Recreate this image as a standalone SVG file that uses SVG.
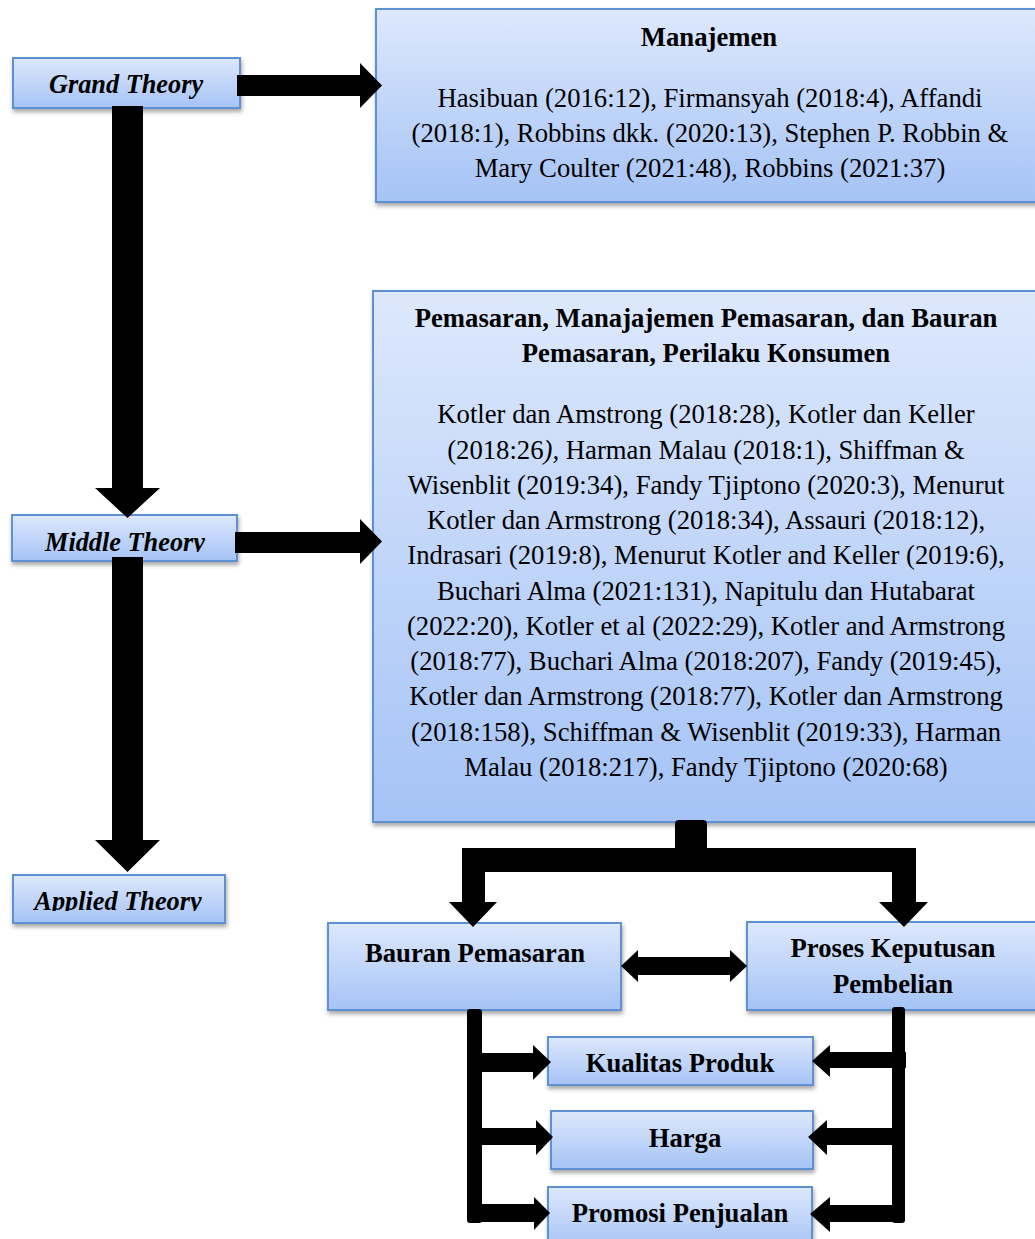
<svg xmlns="http://www.w3.org/2000/svg" width="1035" height="1239" viewBox="0 0 1035 1239">
<defs>
<linearGradient id="g" x1="0" y1="0" x2="0" y2="1">
<stop offset="0" stop-color="#dde8fc"/>
<stop offset="1" stop-color="#a5c3f6"/>
</linearGradient>
<filter id="sh" x="-10%" y="-10%" width="130%" height="140%">
<feDropShadow dx="1" dy="3" stdDeviation="2" flood-color="#000" flood-opacity="0.35"/>
</filter>
<clipPath id="cm"><rect x="0" y="500" width="300" height="52"/></clipPath>
<clipPath id="ca"><rect x="0" y="860" width="300" height="51"/></clipPath>
</defs>
<style>
.box{fill:url(#g);stroke:#5f91d2;stroke-width:2;filter:url(#sh)}
.t{font-family:"Liberation Serif","Times New Roman",serif;font-size:26.7px;fill:#000;text-anchor:middle}
.b{font-weight:bold}
.bi{font-weight:bold;font-style:italic;font-size:26.3px}
.c{fill:#000}
</style>
<g id="node-grand"><rect class="box" x="13" y="58" width="227" height="50"/><text class="t bi" x="126" y="93">Grand Theory</text></g>
<g id="node-middle"><rect class="box" x="12" y="515" width="225" height="46"/><text class="t bi" x="125" y="551" clip-path="url(#cm)">Middle Theory</text></g>
<g id="node-applied"><rect class="box" x="13" y="875" width="212" height="48"/><text class="t bi" x="118" y="910" clip-path="url(#ca)">Applied Theory</text></g>
<g id="node-manajemen"><rect class="box" x="376" y="9" width="670" height="193"/>
<text class="t b" x="709" y="46">Manajemen</text>
<text class="t" x="710" y="107">Hasibuan (2016:12), Firmansyah (2018:4), Affandi</text>
<text class="t" x="710" y="142">(2018:1), Robbins dkk. (2020:13), Stephen P. Robbin &amp;</text>
<text class="t" x="710" y="177">Mary Coulter (2021:48), Robbins (2021:37)</text>
</g>
<g id="node-pemasaran"><rect class="box" x="373" y="291" width="670" height="531"/>
<text class="t b" x="706" y="327">Pemasaran, Manajajemen Pemasaran, dan Bauran</text>
<text class="t b" x="706" y="362">Pemasaran, Perilaku Konsumen</text>
<text class="t" x="706" y="423.3">Kotler dan Amstrong (2018:28), Kotler dan Keller</text>
<text class="t" x="706" y="458.5">(2018:26<tspan font-style="italic">),</tspan> Harman Malau (2018:1), Shiffman &amp;</text>
<text class="t" x="706" y="493.8">Wisenblit (2019:34), Fandy Tjiptono (2020:3), Menurut</text>
<text class="t" x="706" y="529">Kotler dan Armstrong (2018:34), Assauri (2018:12),</text>
<text class="t" x="706" y="564.3">Indrasari (2019:8), Menurut Kotler and Keller (2019:6),</text>
<text class="t" x="706" y="599.5">Buchari Alma (2021:131), Napitulu dan Hutabarat</text>
<text class="t" x="706" y="634.7">(2022:20), Kotler et al (2022:29), Kotler and Armstrong</text>
<text class="t" x="706" y="670">(2018:77), Buchari Alma (2018:207), Fandy (2019:45),</text>
<text class="t" x="706" y="705.2">Kotler dan Armstrong (2018:77), Kotler dan Armstrong</text>
<text class="t" x="706" y="740.5">(2018:158), Schiffman &amp; Wisenblit (2019:33), Harman</text>
<text class="t" x="706" y="775.7">Malau (2018:217), Fandy Tjiptono (2020:68)</text>
</g>
<g id="node-bauran"><rect class="box" x="328" y="923" width="293" height="87"/><text class="t b" x="475" y="962">Bauran Pemasaran</text></g>
<g id="node-proses"><rect class="box" x="747" y="922" width="300" height="88"/><text class="t b" x="893" y="957">Proses Keputusan</text><text class="t b" x="893" y="993">Pembelian</text></g>
<g id="node-kualitas"><rect class="box" x="548" y="1037" width="265" height="48"/><text class="t b" x="680" y="1072">Kualitas Produk</text></g>
<g id="node-harga"><rect class="box" x="551" y="1111" width="262" height="58"/><text class="t b" x="685" y="1147">Harga</text></g>
<g id="node-promosi"><rect class="box" x="548" y="1187" width="264" height="62"/><text class="t b" x="680" y="1222">Promosi Penjualan</text></g>
<g id="connectors">
<polygon class="c" points="237,75 360,75 360,63 382,85.5 360,108 360,96 237,96"/>
<polygon class="c" points="235,532 360,532 360,519 382,541.5 360,564 360,553 235,553"/>
<polygon class="c" points="112,106 143,106 143,488 160,488 127.5,518 95,488 112,488"/>
<polygon class="c" points="112,557 143,557 143,840 160,840 127.5,872 95,840 112,840"/>
<path class="c" d="M675,824 Q675,820 679,820 L703,820 Q707,820 707,824 L707,848 L916,848 L916,902 L928,902 L904,927 L879,902 L892,902 L892,872 L485,872 L485,902 L497,902 L473,927 L449,902 L462,902 L462,848 L675,848 Z"/>
<polygon class="c" points="621,966 638,950 638,957 730,957 730,950 747,966 730,982 730,975 638,975 638,982"/>
<rect class="c" x="467" y="1009" width="15" height="214" rx="3"/>
<polygon class="c" points="480,1053 533,1053 533,1045 551,1062 533,1080 533,1072 480,1072"/>
<polygon class="c" points="480,1128 536,1128 536,1120 553,1137 536,1155 536,1145 480,1145"/>
<polygon class="c" points="480,1204 534,1204 534,1197 550,1213 534,1230 534,1222 480,1222"/>
<rect class="c" x="892" y="1007" width="13" height="216" rx="3"/>
<polygon class="c" points="906,1052 830,1052 830,1045 812,1061 830,1077 830,1068 906,1068"/>
<polygon class="c" points="894,1128 827,1128 827,1120 808,1137 827,1155 827,1145 894,1145"/>
<polygon class="c" points="894,1205 830,1205 830,1197 810,1214 830,1232 830,1222 894,1222"/>
</g>
</svg>
